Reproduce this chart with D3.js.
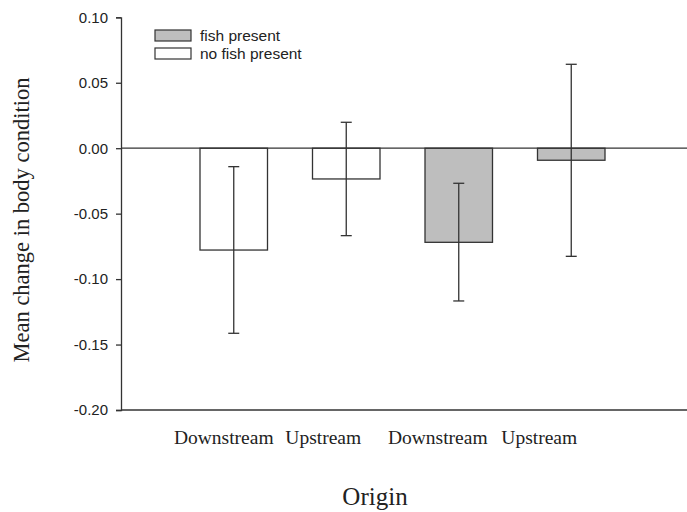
<!DOCTYPE html>
<html>
<head>
<meta charset="utf-8">
<script src="https://cdn.jsdelivr.net/npm/d3@7"></script>
<style>
  body { margin: 0; background: #fff; }
  svg { display: block; }
  .sans { font-family: "Liberation Sans", Arial, sans-serif; fill: #222; }
  .serif { font-family: "Liberation Serif", "Times New Roman", serif; fill: #222; }
</style>
</head>
<body>
<svg id="chart" width="687" height="512"></svg>
<script>
const svg = d3.select("#chart");

// data
const groups = ["nofish-down", "nofish-up", "fish-down", "fish-up"];
const origins = ["Downstream", "Upstream", "Downstream", "Upstream"];
const fishPresent = [false, false, true, true];
const means = [-0.0778, -0.0235, -0.0719, -0.0092];
const errLow = [-0.1414, -0.0668, -0.1167, -0.0826];
const errHigh = [-0.0141, 0.0198, -0.0268, 0.0641];
const yTicks = [-0.20, -0.15, -0.10, -0.05, 0.00, 0.05, 0.10];
const legendLabels = ["fish present", "no fish present"];

// layout
const plotL = 121, plotR = 687, plotT = 17.3, plotB = 410;
const labelNudge = [-10, -23, -21, -32];
const stroke = "#333";
const grey = "#bebebe";

const y = d3.scaleLinear().domain([-0.2, 0.1]).range([plotB, plotT]);
const x = d3.scaleBand().domain(groups).range([155, 650])
  .paddingInner(0.4).paddingOuter(0.4);

// y axis (plain hyphen for negatives, like the original)
const fmt = d => d3.format(".2f")(d).replace("\u2212", "-");
const yAxis = svg.append("g")
  .attr("transform", `translate(${plotL},0)`)
  .call(d3.axisLeft(y).tickValues(yTicks).tickFormat(fmt).tickSize(5).tickPadding(8));
yAxis.select(".domain").attr("stroke", stroke).attr("stroke-width", 1.3);
yAxis.selectAll(".tick line").attr("stroke", stroke).attr("stroke-width", 1.3);
yAxis.selectAll(".tick text").attr("class", "sans").style("font-size", "15px")
  .attr("fill", "#222");

// bottom axis line
svg.append("line")
  .attr("x1", plotL).attr("x2", plotR).attr("y1", plotB).attr("y2", plotB)
  .attr("stroke", stroke).attr("stroke-width", 1.5);

// bars
svg.selectAll("rect.bar").data(groups).join("rect")
  .attr("class", "bar")
  .attr("x", d => x(d))
  .attr("width", x.bandwidth())
  .attr("y", (d, i) => y(Math.max(0, means[i])))
  .attr("height", (d, i) => Math.abs(y(means[i]) - y(0)))
  .attr("fill", (d, i) => fishPresent[i] ? grey : "#fff")
  .attr("stroke", stroke).attr("stroke-width", 1.3);

// zero line
svg.append("line")
  .attr("x1", plotL).attr("x2", plotR).attr("y1", y(0)).attr("y2", y(0))
  .attr("stroke", stroke).attr("stroke-width", 1.3);

// error bars
const cap = 5.5;
const cx = d => x(d) + x.bandwidth() / 2;
const eb = svg.selectAll("g.err").data(groups).join("g").attr("class", "err")
  .attr("stroke", stroke).attr("stroke-width", 1.3);
eb.append("line")
  .attr("x1", cx).attr("x2", cx)
  .attr("y1", (d, i) => y(errHigh[i])).attr("y2", (d, i) => y(errLow[i]));
eb.append("line")
  .attr("x1", d => cx(d) - cap).attr("x2", d => cx(d) + cap)
  .attr("y1", (d, i) => y(errHigh[i])).attr("y2", (d, i) => y(errHigh[i]));
eb.append("line")
  .attr("x1", d => cx(d) - cap).attr("x2", d => cx(d) + cap)
  .attr("y1", (d, i) => y(errLow[i])).attr("y2", (d, i) => y(errLow[i]));

// x category labels
svg.selectAll("text.cat").data(groups).join("text")
  .attr("class", "cat serif")
  .attr("x", (d, i) => cx(d) + labelNudge[i])
  .attr("y", 444)
  .attr("text-anchor", "middle")
  .style("font-size", "19.5px")
  .text((d, i) => origins[i]);

// axis titles
svg.append("text").attr("class", "serif")
  .attr("x", 375).attr("y", 505).attr("text-anchor", "middle")
  .style("font-size", "25px").text("Origin");

svg.append("text").attr("class", "serif")
  .attr("transform", "translate(29,220) rotate(-90)")
  .attr("text-anchor", "middle")
  .style("font-size", "22.5px").text("Mean change in body condition");

// legend
const lg = svg.append("g").attr("transform", "translate(155,30)");
legendLabels.forEach((t, i) => {
  lg.append("rect").attr("x", 0).attr("y", i * 18).attr("width", 36).attr("height", 11)
    .attr("fill", i === 0 ? grey : "#fff").attr("stroke", stroke).attr("stroke-width", 1.2);
  lg.append("text").attr("class", "sans").attr("x", 45).attr("y", i * 18 + 10.5)
    .style("font-size", "15.5px").text(t);
});
</script>
</body>
</html>
